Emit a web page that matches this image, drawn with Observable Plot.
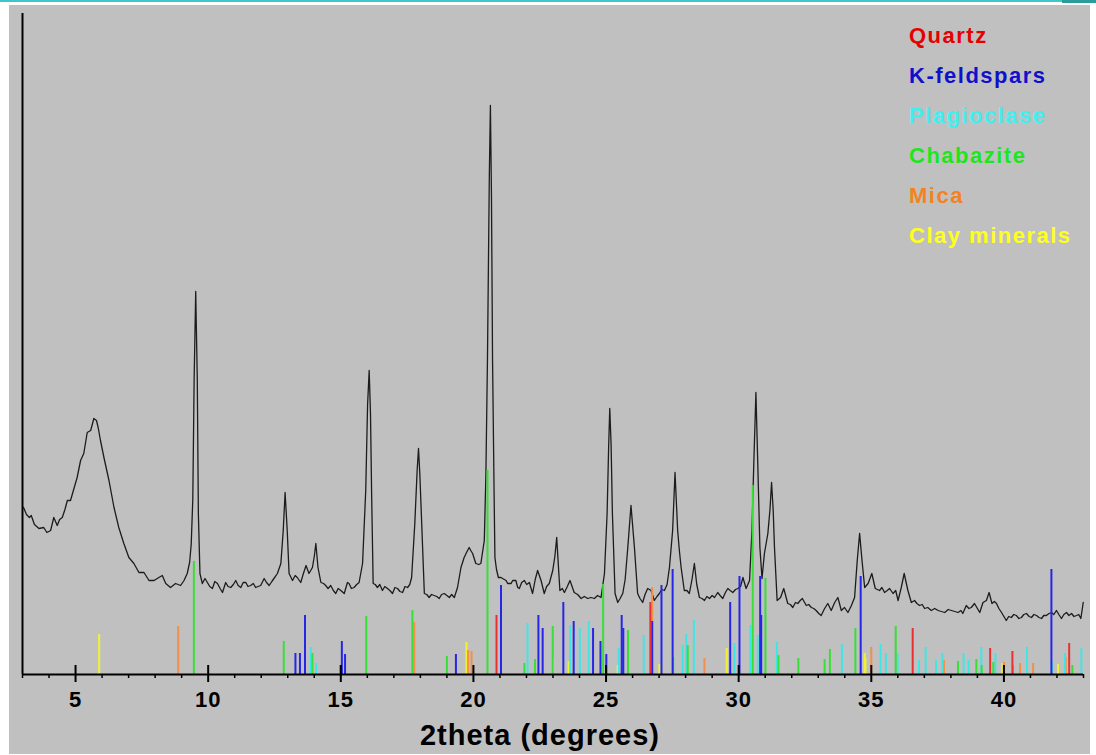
<!DOCTYPE html>
<html>
<head>
<meta charset="utf-8">
<script src="https://cdn.jsdelivr.net/npm/d3@7"></script>
<script src="https://cdn.jsdelivr.net/npm/@observablehq/plot@0.6"></script>
<style>
  html, body { margin: 0; padding: 0; background: #ffffff; }
  #wrap { position: relative; width: 1096px; height: 755px; overflow: hidden; font-family: "Liberation Sans", Arial, sans-serif; }
  #bg { position: absolute; left: 9px; top: 5px; width: 1081px; height: 749px; background: #c0c0c0; }
  #topline { position: absolute; left: 0; top: 0; width: 1096px; height: 2px; background: #3cc8c8; }
  #topline2 { position: absolute; left: 1062px; top: 0; width: 34px; height: 3px; background: #2a9c9c; }
  #chart { position: absolute; left: 0; top: 0; }
  #legend { position: absolute; left: 909px; top: 16px; font-weight: bold; font-size: 22px; line-height: 40px; letter-spacing: 1.5px; }
  #xtitle { position: absolute; left: 240px; top: 720px; width: 600px; text-align: center; font-weight: bold; font-size: 29px; line-height: 30px; letter-spacing: 1px; color: #000; }
</style>
</head>
<body>
<div id="wrap">
  <div id="bg"></div>
  <div id="topline"></div>
  <div id="topline2"></div>
  <div id="chart"></div>
  <div id="legend"></div>
  <div id="xtitle">2theta (degrees)</div>
</div>
<script>
// ---- XRD pattern (2theta in degrees, intensity in arbitrary units) ----
const xrdTheta = [3.04,3.15,3.26,3.33,3.45,3.62,3.80,3.92,4.06,4.18,4.31,4.40,4.50,4.60,4.69,4.81,4.94,5.06,5.19,5.31,5.44,5.57,5.69,5.79,5.86,5.94,6.07,6.26,6.45,6.63,6.82,7.01,7.20,7.39,7.58,7.77,7.96,8.14,8.27,8.40,8.58,8.77,8.96,9.09,9.21,9.30,9.36,9.42,9.47,9.53,9.59,9.63,9.69,9.78,9.88,9.97,10.06,10.16,10.25,10.35,10.45,10.54,10.66,10.75,10.85,10.95,11.04,11.13,11.23,11.32,11.42,11.50,11.60,11.70,11.79,11.88,11.98,12.11,12.20,12.30,12.40,12.48,12.61,12.74,12.83,12.90,12.98,13.05,13.18,13.28,13.36,13.49,13.59,13.69,13.80,13.93,14.00,14.06,14.14,14.25,14.35,14.43,14.52,14.62,14.72,14.81,14.90,15.00,15.13,15.25,15.31,15.40,15.50,15.60,15.69,15.82,15.94,16.01,16.07,16.12,16.16,16.22,16.30,16.38,16.47,16.57,16.66,16.76,16.85,16.95,17.04,17.14,17.23,17.33,17.42,17.52,17.60,17.67,17.79,17.88,17.93,17.98,18.05,18.15,18.24,18.33,18.42,18.52,18.62,18.71,18.80,18.90,19.00,19.09,19.18,19.28,19.40,19.53,19.65,19.74,19.84,19.90,19.97,20.09,20.20,20.28,20.41,20.47,20.53,20.60,20.64,20.68,20.72,20.78,20.81,20.87,20.94,21.04,21.10,21.23,21.29,21.42,21.48,21.60,21.67,21.73,21.82,21.92,22.01,22.11,22.23,22.33,22.42,22.55,22.67,22.76,22.86,22.99,23.07,23.14,23.20,23.26,23.35,23.43,23.54,23.64,23.72,23.80,23.93,24.06,24.18,24.31,24.43,24.56,24.68,24.81,24.94,25.04,25.10,25.14,25.19,25.24,25.34,25.44,25.53,25.63,25.72,25.82,25.94,26.07,26.19,26.28,26.38,26.47,26.57,26.70,26.82,26.92,27.01,27.10,27.20,27.30,27.39,27.51,27.60,27.70,27.76,27.83,27.95,28.05,28.14,28.24,28.33,28.42,28.52,28.62,28.71,28.80,28.90,29.00,29.09,29.21,29.30,29.40,29.50,29.59,29.68,29.78,29.88,29.97,30.07,30.16,30.28,30.41,30.50,30.57,30.65,30.72,30.80,30.88,30.97,31.10,31.18,31.24,31.30,31.35,31.45,31.58,31.70,31.78,31.85,31.95,32.04,32.14,32.23,32.32,32.40,32.55,32.64,32.74,32.83,32.92,33.02,33.11,33.24,33.36,33.49,33.62,33.74,33.87,33.99,34.12,34.25,34.37,34.47,34.56,34.65,34.75,34.88,35.02,35.15,35.31,35.40,35.50,35.60,35.69,35.82,35.92,36.01,36.13,36.24,36.38,36.51,36.63,36.72,36.82,36.92,37.01,37.13,37.26,37.39,37.52,37.64,37.77,37.90,38.02,38.15,38.27,38.38,38.45,38.58,38.68,38.77,38.89,39.00,39.09,39.21,39.34,39.44,39.55,39.64,39.72,39.81,39.91,40.00,40.09,40.18,40.28,40.37,40.47,40.56,40.66,40.75,40.85,40.95,41.04,41.13,41.23,41.32,41.42,41.50,41.60,41.70,41.79,41.88,41.98,42.07,42.17,42.26,42.36,42.45,42.55,42.64,42.74,42.82,42.90,42.99];
const xrdIntensity = [167,160,157,159,150,146,147,142,144,157,149,155,157,165,174,174,186,197,214,221,242,244,256,254,246,234,217,194,167,147,131,117,111,102,102,94,94,97,99,91,87,91,89,94,101,112,130,175,294,383,294,161,101,91,96,92,88,86,93,91,86,82,92,88,87,90,94,89,87,92,92,88,89,91,87,88,89,96,92,89,93,96,101,111,144,182,144,101,94,99,97,92,101,109,101,107,118,131,107,92,91,89,86,89,84,81,86,84,81,92,91,86,87,90,92,111,184,270,304,260,184,91,90,87,90,84,88,86,84,81,87,86,83,82,88,87,90,97,151,205,226,200,151,81,80,77,80,79,78,76,80,81,79,77,80,77,87,107,117,122,127,124,121,111,110,111,134,200,317,500,569,480,317,180,117,105,97,97,96,94,91,91,94,94,87,86,92,94,90,92,81,95,104,94,81,88,91,104,118,137,110,84,86,82,88,94,88,82,80,76,78,76,77,76,79,77,101,161,230,266,230,161,81,72,76,81,95,127,169,127,81,76,72,80,86,84,74,78,81,85,84,90,107,144,202,144,125,107,84,84,81,95,111,90,77,76,74,78,76,79,77,82,79,76,82,86,84,82,85,86,88,97,86,94,144,211,282,211,127,96,121,141,165,192,165,127,74,77,86,78,71,70,67,72,71,74,76,69,70,67,66,64,61,59,66,71,64,72,77,64,67,62,69,77,114,141,114,87,91,101,86,84,87,82,84,86,81,84,74,87,101,84,72,74,71,69,70,66,67,64,66,64,63,62,65,64,63,62,64,61,69,66,67,71,66,62,72,74,82,71,73,71,66,62,58,54,58,57,60,59,56,57,60,61,58,57,60,59,57,56,59,59,61,62,60,64,60,56,60,62,59,61,58,59,60,56,72];

// ---- reference stick patterns (position, relative intensity) ----
const quartzPos = [20.87,26.67,36.56,39.48,40.32,42.46];
const quartzInt = [59,72,46,26,23,31];
const kfeldPos = [13.29,13.46,13.65,15.00,15.04,15.16,19.34,21.04,22.45,22.61,23.39,23.78,24.51,24.79,25.01,25.59,25.65,26.74,27.09,27.51,29.68,30.03,30.81,30.85,34.60,41.79];
const kfeldInt = [21,21,59,9,33,20,20,89,59,46,72,53,46,33,20,59,46,53,89,105,72,98,98,59,98,105];
const plagPos = [13.87,14.07,22.04,23.65,24.01,24.35,25.48,26.42,27.89,28.02,28.31,29.84,30.44,30.72,31.44,33.89,35.35,35.55,35.99,36.80,37.05,37.44,37.68,38.48,38.67,39.15,39.68,40.87,41.81,42.30,42.92];
const plagInt = [27,11,51,49,46,53,26,39,29,40,54,31,49,39,32,30,30,21,21,14,27,14,21,21,14,27,21,27,12,21,26];
const chabPos = [9.46,12.85,13.93,15.96,17.70,19.00,20.53,21.92,22.32,22.99,24.89,25.83,27.53,28.08,30.53,31.01,31.50,32.25,33.24,33.44,34.40,35.92,38.27,38.96,39.16,39.60,40.34,42.58];
const chabInt = [113,33,21,58,64,18,204,11,15,48,90,44,17,29,189,96,19,16,15,25,46,48,13,15,9,12,9,9];
const micaPos = [8.87,17.77,19.80,19.93,26.74,28.71,35.00,37.74,40.00,40.61,41.10,42.33];
const micaInt = [48,52,24,23,87,16,27,14,12,11,11,17];
const clayPos = [5.89,19.74,23.00,23.59,25.44,27.01,29.55,34.75,34.78,39.94,42.04];
const clayInt = [40,32,16,13,9,10,26,21,16,11,10];

// ---- categories / legend ----
const minerals = ["Quartz","K-feldspars","Plagioclase","Chabazite","Mica","Clay minerals"];
const legendColors = ["#e60000","#1010cc","#40f0f0","#1ee61e","#f58220","#ffff1e"];
const stickColors = ["#e83030","#2626e6","#3ee6e6","#36e036","#f0904a","#f2f232"];

// ---- axis ----
const xDomain = [3, 43];
const yDomain = [0, 661];
const majorTicks = [5,10,15,20,25,30,35,40];
const minorTicks = [3,4,6,7,8,9,11,12,13,14,16,17,18,19,21,22,23,24,26,27,28,29,31,32,33,34,36,37,38,39,41,42,43];

const zip = (p, v) => p.map((x, i) => ({t: x, i: v[i]}));
const pattern = zip(xrdTheta, xrdIntensity);
const stickSets = [
  zip(quartzPos, quartzInt),
  zip(kfeldPos, kfeldInt),
  zip(plagPos, plagInt),
  zip(chabPos, chabInt),
  zip(micaPos, micaInt),
  zip(clayPos, clayInt)
];
// draw order: clay, mica, plagioclase, chabazite, K-feldspars, quartz
const drawOrder = [5, 4, 2, 3, 1, 0];

const chart = Plot.plot({
  width: 1096,
  height: 755,
  marginLeft: 22,
  marginRight: 13,
  marginTop: 13,
  marginBottom: 81,
  style: {background: "transparent", fontFamily: "'Liberation Sans', Arial, sans-serif", letterSpacing: "1px", overflow: "visible"},
  x: {domain: xDomain},
  y: {domain: yDomain, axis: null},
  marks: [
    Plot.line(pattern, {x: "t", y: "i", stroke: "#1c1c1c", strokeWidth: 1.3}),
    ...drawOrder.map(k => Plot.ruleX(stickSets[k], {x: "t", y1: 0, y2: "i", stroke: stickColors[k], strokeWidth: 2})),
    Plot.ruleX([xDomain[0]], {stroke: "#000", strokeWidth: 2}),
    Plot.ruleY([0], {stroke: "#000", strokeWidth: 2}),
    Plot.ruleX(majorTicks, {y1: -8, y2: 9, stroke: "#000", strokeWidth: 2}),
    Plot.ruleX(minorTicks, {y1: -4, y2: 0, stroke: "#000", strokeWidth: 1.5}),
    Plot.axisX({ticks: majorTicks, tickSize: 0, tickPadding: 17, fontSize: 22, fontWeight: "bold", fill: "#000", label: null})
  ]
});
document.getElementById("chart").appendChild(chart);

const legend = document.getElementById("legend");
minerals.forEach((m, k) => {
  const d = document.createElement("div");
  d.textContent = m;
  d.style.color = legendColors[k];
  legend.appendChild(d);
});
</script>
</body>
</html>
